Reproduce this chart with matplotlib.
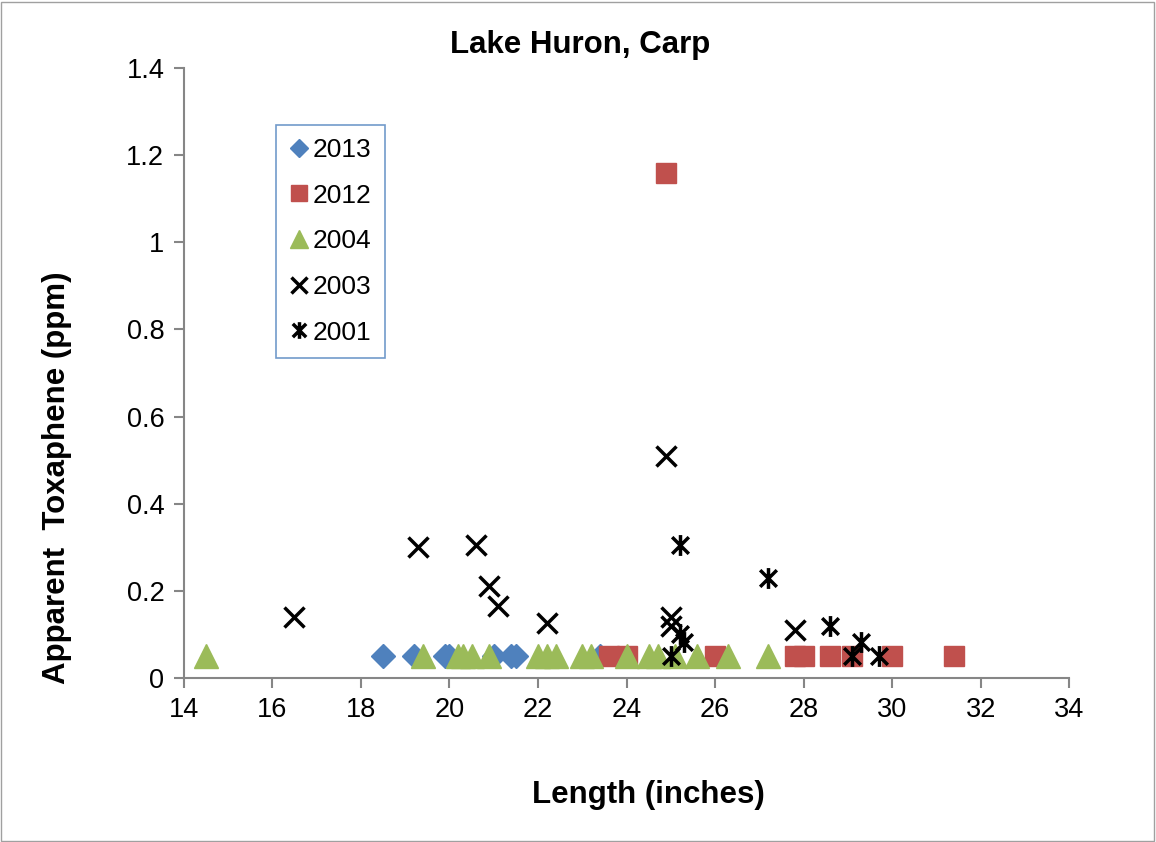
import matplotlib
matplotlib.use("Agg")
import matplotlib.pyplot as plt
from matplotlib.path import Path

plt.rcParams["font.family"] = ["Liberation Sans", "DejaVu Sans"]

# ---- data -------------------------------------------------------------
x_2013 = [18.5, 19.2, 19.9, 20.0, 21.0, 21.4, 21.5, 23.4]
y_2013 = [0.05] * len(x_2013)

x_2012 = [23.6, 24.0, 24.9, 26.0, 27.8, 28.0, 28.6, 29.1, 30.0, 31.4]
y_2012 = [0.05, 0.05, 1.16, 0.05, 0.05, 0.05, 0.05, 0.05, 0.05, 0.05]

x_2004 = [14.5, 19.4, 20.2, 20.3, 20.5, 20.9, 22.0, 22.2, 22.4, 23.0,
          23.2, 24.0, 24.5, 24.7, 25.1, 25.6, 26.3, 27.2]
y_2004 = [0.05] * len(x_2004)

x_2003 = [16.5, 19.3, 20.6, 20.9, 21.1, 22.2, 24.9, 25.0, 25.0, 27.8]
y_2003 = [0.14, 0.30, 0.305, 0.21, 0.165, 0.125, 0.51, 0.14, 0.12, 0.11]

x_2001 = [25.0, 25.2, 25.2, 25.3, 27.2, 28.6, 29.1, 29.3, 29.7]
y_2001 = [0.05, 0.305, 0.10, 0.083, 0.23, 0.12, 0.05, 0.083, 0.05]

xticks = [14, 16, 18, 20, 22, 24, 26, 28, 30, 32, 34]
yticks = [0, 0.2, 0.4, 0.6, 0.8, 1.0, 1.2, 1.4]
ytick_labels = ["0", "0.2", "0.4", "0.6", "0.8", "1", "1.2", "1.4"]

# star marker: an x with a vertical stroke
star = Path([(-1, -1), (1, 1), (-1, 1), (1, -1), (0, -1.25), (0, 1.25)],
            [Path.MOVETO, Path.LINETO, Path.MOVETO, Path.LINETO,
             Path.MOVETO, Path.LINETO])

fig = plt.figure(figsize=(11.56, 8.42), dpi=100)
ax = fig.add_axes([0.159, 0.195, 0.766, 0.724])

ax.plot(x_2013, y_2013, "D", color="#4F81BD", markersize=12, label="2013",
        linestyle="none")
ax.plot(x_2012, y_2012, "s", color="#C0504D", markersize=14.5, label="2012",
        linestyle="none")
ax.plot(x_2004, y_2004, "^", color="#9BBB59", markersize=17, label="2004",
        linestyle="none")
ax.plot(x_2003, y_2003, "x", color="black", markersize=14, markeredgewidth=2.5,
        label="2003", linestyle="none")
ax.plot(x_2001, y_2001, marker=star, color="black", markersize=15,
        markeredgewidth=2.5, label="2001", linestyle="none")

ax.set_xlim(14, 34)
ax.set_ylim(0, 1.4)
ax.set_xticks(xticks)
ax.set_yticks(yticks)
ax.set_yticklabels(ytick_labels)
ax.tick_params(labelsize=19.5, color="#868686", length=7, width=1.5, pad=7)
for side in ("top", "right"):
    ax.spines[side].set_visible(False)
for side in ("left", "bottom"):
    ax.spines[side].set_color("#868686")
    ax.spines[side].set_linewidth(1.5)

fig.text(648 / 1156, 1 - 795 / 842, "Length (inches)", fontsize=22.5,
         fontweight="bold", ha="center", va="center")
fig.text(57 / 1156, 1 - 478 / 842, "Apparent  Toxaphene (ppm)", fontsize=22.5,
         fontweight="bold", ha="center", va="center", rotation=90)
fig.text(580 / 1156, 1 - 45 / 842, "Lake Huron, Carp", fontsize=22.5,
         fontweight="bold", ha="center", va="center")

leg = ax.legend(loc="upper left", bbox_to_anchor=(0.104, 0.907), fontsize=19,
                frameon=True, fancybox=False, handlelength=0.75,
                handletextpad=0.15, labelspacing=0.82, borderpad=0.5,
                markerscale=0.8, borderaxespad=0)
leg.get_frame().set_edgecolor("#4F81BD")
leg.get_frame().set_linewidth(1.2)

# outer chart border
fig.patches.append(plt.Rectangle((0.001, 0.001), 0.997, 0.997,
                                 transform=fig.transFigure, fill=False,
                                 edgecolor="#A0A0A0", linewidth=1))

fig.savefig("out.png", dpi=100)
